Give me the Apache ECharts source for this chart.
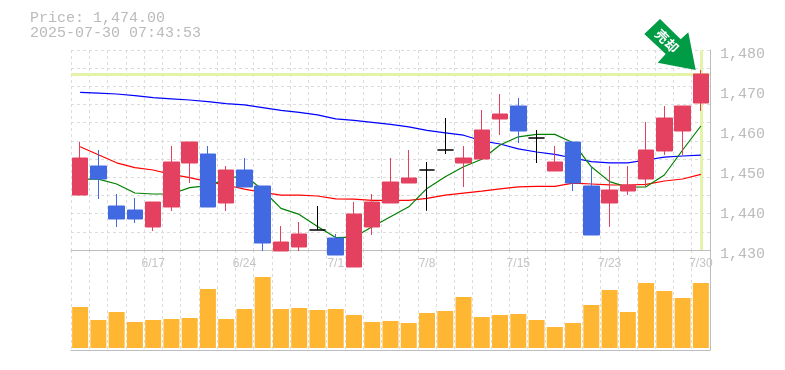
<!DOCTYPE html>
<html><head><meta charset="utf-8">
<style>html,body{margin:0;padding:0;background:#fff}#c{width:785px;height:370px}</style>
<script src="https://cdn.jsdelivr.net/npm/echarts@6/dist/echarts.min.js"></script>
</head><body><div id="c"></div>
<script>
const dates=['6/11','6/12','6/13','6/16','6/17','6/18','6/19','6/20','6/23','6/24','6/25','6/26','6/27','6/30','7/1','7/2','7/3','7/4','7/7','7/8','7/9','7/10','7/11','7/14','7/15','7/16','7/17','7/18','7/22','7/23','7/24','7/25','7/28','7/29','7/30'];
const opens=[1443.75,1451,1441,1440,1435.75,1440.75,1451.75,1454,1441.75,1450,1446,1429.75,1430.75,1435,1433,1425.75,1435.75,1441.75,1446.75,1450,1455,1451.75,1452.75,1462.75,1466,1458,1449.75,1457,1446,1441.75,1444.75,1447.75,1454.75,1459.75,1466.75];
const closes=[1453,1447.75,1437.75,1437.75,1442,1452,1457,1440.75,1450,1445.75,1431.75,1432,1434,1435,1428.75,1439,1442,1447,1448,1450,1455,1453,1460,1464,1459.75,1458,1452,1446.75,1433.75,1445,1446.25,1455,1463,1466,1474];
const lows=[1443.75,1442.75,1435.75,1436.75,1434.75,1439.75,1446.75,1440.75,1439.75,1445.75,1429.75,1429.75,1429.75,1435,1428.75,1425.75,1433.75,1441.75,1446.75,1439.8,1454,1445.75,1452.75,1458.75,1456.75,1451.75,1449.75,1444.75,1433.75,1435.75,1443.75,1445.75,1453.75,1453.75,1464.75];
const highs=[1457,1455,1444,1443,1442,1456,1457,1456,1451,1453,1446,1436,1437,1441,1434,1442,1444,1453,1455,1452,1463,1456,1465,1469,1468,1460,1456,1457,1451,1451,1451,1462,1466,1466,1475];
const maLong=[1469.4,1469.2,1469,1468.6,1468.1,1467.8,1467.5,1467.1,1466.6,1466.3,1465.6,1464.9,1464.4,1463.8,1462.8,1462.4,1461.9,1461.4,1460.8,1459.9,1459.3,1458.7,1457.3,1456.5,1455.3,1454.5,1453.9,1453,1452.1,1451.8,1451.8,1452.5,1453.2,1453.5,1453.7];
const maMid=[1455.8,1453.8,1451.8,1450.6,1450,1448.9,1448.1,1447.1,1446.25,1445.2,1444.4,1443.7,1443.7,1443.5,1442.8,1442.7,1442.4,1442.4,1442.4,1442.9,1443.7,1444.2,1444.7,1445.3,1445.8,1445.9,1445.9,1446.7,1446.5,1446.3,1446.25,1446.4,1447.25,1447.75,1448.9];
const maShort=[1447.7,1447.7,1446.5,1444.25,1444,1444,1445.6,1446.1,1447.7,1448.75,1445,1440.4,1438.9,1435.9,1433.1,1433.2,1435.8,1438.3,1440.8,1445.4,1448.3,1450.8,1452.7,1456.25,1458.3,1458.9,1458.9,1456.8,1450.8,1447.1,1445.7,1445.8,1448.75,1455,1461];
const volumes=[41,28,36,26,28,29,30,59,29,39,71,39,40,38,39,33,26,27,25,35,37,51,31,33,34,28,21,25,43,58,36,65,57,50,65];
const priceText='Price: 1,474.00';
const timeText='2025-07-30 07:43:53';
const badgeText='売\u200a却';

const last=dates.length-1;
const candleData=dates.map((_,i)=>[opens[i],closes[i],lows[i],highs[i]]);
const gridC='#dcdcdc', axisC='#bdbdbd', txtC='#bbbbbb';
const mono='"Liberation Mono", monospace';
const splitV={show:true,interval:0,lineStyle:{color:gridC,type:[3,3],width:1}};
const line=(name,data,color,extra)=>Object.assign({name,type:'line',data,xAxisIndex:0,yAxisIndex:0,showSymbol:false,symbol:'none',z:3,silent:true,lineStyle:{color,width:1.2},itemStyle:{color}},extra||{});
const chart=echarts.init(document.getElementById('c'),null,{renderer:'canvas'});
chart.setOption({
 animation:false,backgroundColor:'#fff',
 title:{left:30,top:11,padding:0,text:priceText+'\n'+timeText,textStyle:{fontFamily:mono,fontSize:15,fontWeight:'normal',color:txtC,lineHeight:15}},
 grid:[{left:71,width:639,top:50,height:200},{left:71,width:639,top:250,height:100}],
 xAxis:[
  {type:'category',gridIndex:0,data:dates,boundaryGap:true,axisTick:{show:false},
   axisLine:{onZero:false,lineStyle:{color:axisC,width:1}},splitLine:splitV,
   axisLabel:{interval:(i)=>i%5===4,color:'#c4c4c4',fontFamily:'"Liberation Sans"',fontSize:12,margin:8,hideOverlap:false}},
  {type:'category',gridIndex:1,data:dates,boundaryGap:true,axisTick:{show:false},
   axisLine:{onZero:false,lineStyle:{color:axisC,width:1}},splitLine:splitV,axisLabel:{show:false}}
 ],
 yAxis:[
  {type:'value',gridIndex:0,position:'right',min:1430,max:1480,interval:10,scale:true,splitLine:{show:false},
   axisLine:{show:true,lineStyle:{color:axisC}},axisTick:{show:false},
   axisLabel:{color:txtC,fontFamily:mono,fontSize:15,margin:10,verticalAlign:'top',lineHeight:9,formatter:v=>v.toLocaleString('en-US')}},
  {type:'value',gridIndex:0,position:'left',min:0,max:11,interval:1,axisLine:{show:false},axisTick:{show:false},axisLabel:{show:false},
   splitLine:{show:true,lineStyle:{color:gridC,type:[3,3],width:1}}},
  {type:'value',gridIndex:1,position:'right',min:-2,max:98,splitLine:{show:false},axisTick:{show:false},axisLabel:{show:false},
   axisLine:{show:true,lineStyle:{color:axisC}}}
 ],
 series:[
  line('highlight',[],'#e3f3a8',{z:2,markLine:{silent:true,symbol:'none',z:2,label:{show:false},
    lineStyle:{color:'#e3f3a8',width:3,type:'solid'},
    data:[{yAxis:closes[last]},{xAxis:last}]}}),
  line('long',maLong,'#0000ff'),
  line('mid',maMid,'#ff0000'),
  line('short',maShort,'#008000'),
  {name:'price',type:'candlestick',data:candleData,xAxisIndex:0,yAxisIndex:0,barWidth:16,clip:false,z:5,silent:true,
   itemStyle:{color:'#e44060',color0:'#4169e1',borderColor:'#e44060',borderColor0:'#4169e1',borderColorDoji:'#000',borderWidth:1}},
  {name:'volume',type:'bar',data:volumes,xAxisIndex:1,yAxisIndex:2,barWidth:16,silent:true,itemStyle:{color:'#ffb733'}}
 ],
 graphic:[
  {type:'polygon',z:50,shape:{points:[[644.3,34],[660,19],[680.7,39.3],[688.3,32.3],[695.7,70],[657.7,62.7],[665.7,54]]},style:{fill:'#009b45'}},
  {type:'text',z:51,x:667,y:41,rotation:-Math.PI/4,style:{text:badgeText,fill:'#fff',fontSize:13,fontWeight:'bold',fontFamily:'"Noto Sans CJK JP"',align:'center',verticalAlign:'middle'}}
 ]
});
</script></body></html>
